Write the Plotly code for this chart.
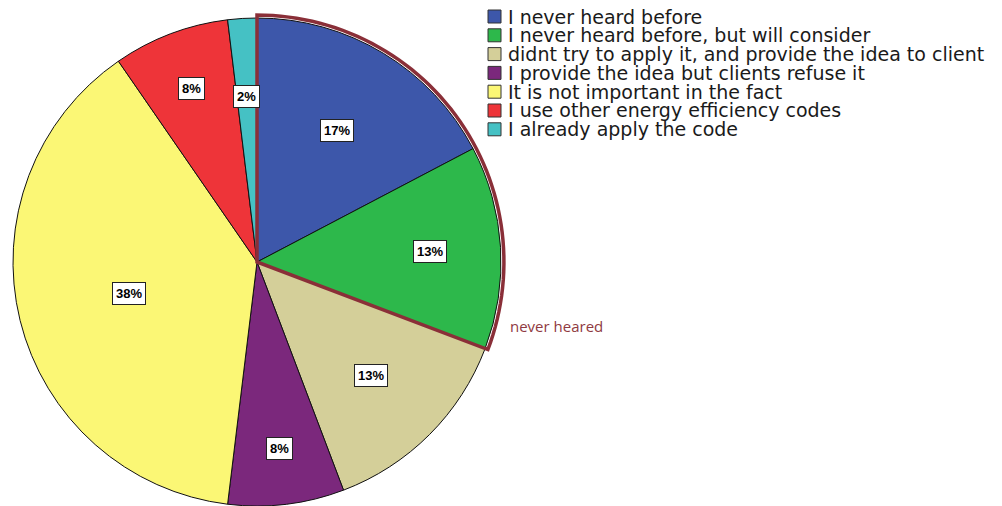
import math
import plotly.graph_objects as go

# Survey responses (counts) about the energy efficiency code
categories = [
    "I never heard before",
    "I never heard before, but will consider",
    "didnt try to apply it, and provide the idea to client",
    "I provide the idea but clients refuse it",
    "It is not important in the fact",
    "I use other energy efficiency codes",
    "I already apply the code",
]
counts = [9, 7, 7, 4, 20, 4, 1]
colors = ["#3d57aa", "#2db84b", "#d4cf99", "#7b287c", "#fbf775", "#ee3439", "#45c1c4"]

# label distance from centre, as a fraction of the radius
label_radius = [0.63, 0.71, 0.66, 0.77, 0.54, 0.76, 0.68]

W, H = 1002, 506
cx, cy, R = 257, 262, 244  # pie centre and radius in pixels


def to_paper(px, py):
    return px / W, 1 - py / H


total = sum(counts)
fig = go.Figure(
    go.Pie(
        labels=categories,
        values=counts,
        sort=False,
        direction="clockwise",
        rotation=0,
        textinfo="none",
        hoverinfo="label+percent",
        marker=dict(colors=colors, line=dict(color="#111111", width=1)),
        domain=dict(x=[(cx - R) / W, (cx + R) / W], y=[(H - cy - R) / H, (H - cy + R) / H]),
        showlegend=False,
    )
)

annotations = []
shapes = []

# percentage labels in white boxes
cum = 0
for i, v in enumerate(counts):
    mid = (cum + v / 2) / total * 2 * math.pi
    cum += v
    r = label_radius[i] * R
    px = cx + r * math.sin(mid)
    py = cy - r * math.cos(mid)
    x, y = to_paper(px, py)
    annotations.append(dict(
        x=x, y=y, xref="paper", yref="paper", showarrow=False,
        xanchor="center", yanchor="middle",
        text=f"<b>{round(v / total * 100)}%</b>",
        font=dict(family="Liberation Sans", size=13, color="#000000"),
        bgcolor="#ffffff", bordercolor="#222222", borderwidth=1, borderpad=3,
    ))

# legend drawn as coloured squares with text
lx, ly0, step, sq = 488, 16.5, 18.8, 13
for i, name in enumerate(categories):
    py = ly0 + i * step
    x0, y0 = to_paper(lx, py - sq / 2)
    x1, y1 = to_paper(lx + sq, py + sq / 2)
    shapes.append(dict(type="rect", xref="paper", yref="paper", x0=x0, x1=x1, y0=y0, y1=y1,
                       fillcolor=colors[i], line=dict(color="#333333", width=1)))
    tx, ty = to_paper(lx + sq + 5, py)
    annotations.append(dict(
        x=tx, y=ty, xref="paper", yref="paper", showarrow=False, xanchor="left", yanchor="middle",
        text=name, font=dict(family="DejaVu Sans", size=19, color="#1a1a1a"),
    ))

# outline around the two "never heard" slices
group_end = (counts[0] + counts[1]) / total * 2 * math.pi
ro = R * 1.012
pts = [(cx, cy), (cx, cy - ro)]
n = 60
for k in range(1, n + 1):
    a = group_end * k / n
    pts.append((cx + ro * math.sin(a), cy - ro * math.cos(a)))
path = "M " + " L ".join(f"{to_paper(px, py)[0]:.5f},{to_paper(px, py)[1]:.5f}" for px, py in pts) + " Z"
shapes.append(dict(type="path", xref="paper", yref="paper", path=path,
                   line=dict(color="#8a2f38", width=3.5), fillcolor="rgba(0,0,0,0)"))

nx, ny = to_paper(508, 326)
annotations.append(dict(
    x=nx, y=ny, xref="paper", yref="paper", showarrow=False, xanchor="left", yanchor="middle",
    text="never heared", font=dict(family="Open Sans", size=15, color="#8f3a42"),
))

fig.update_layout(
    width=W, height=H,
    margin=dict(l=0, r=0, t=0, b=0),
    paper_bgcolor="#ffffff",
    plot_bgcolor="#ffffff",
    annotations=annotations,
    shapes=shapes,
)

fig.write_html("out.html")
